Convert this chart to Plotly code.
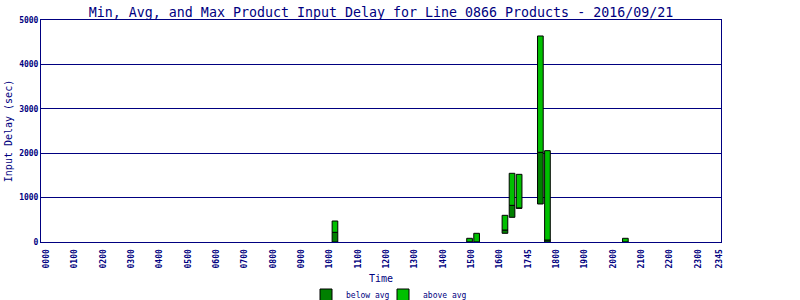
import plotly.graph_objects as go

# ---- data ----
bar_times = ["1015", "1500", "1515", "1615", "1630", "1645", "1730", "1745", "2030"]
min_delay = [0, 0, 0, 196, 556, 759, 856, 0, 0]
avg_delay = [218, 3, 3, 270, 826, 768, 2020, 45, 3]
max_delay = [473, 83, 196, 601, 1547, 1524, 4640, 2057, 83]

tick_labels = ["0000", "0100", "0200", "0300", "0400", "0500", "0600", "0700",
               "0800", "0900", "1000", "1100", "1200", "1300", "1400", "1500",
               "1600", "1745", "1800", "1900", "2000", "2100", "2200", "2300", "2345"]

# all quarter-hour slots of the day (axis categories)
slots = [f"{h:02d}{m:02d}" for h in range(24) for m in (0, 15, 30, 45)]
tick_vals = [slots[i] for i in range(0, 96, 4)] + [slots[95]]

NAVY = "#000080"
DARK = "#008000"
LIGHT = "#00C000"
MONO = "DejaVu Sans Mono"

fig = go.Figure()
fig.add_trace(go.Bar(
    x=bar_times,
    base=min_delay,
    y=[a - m for a, m in zip(avg_delay, min_delay)],
    name="below avg",
    legend="legend",
    marker=dict(color=DARK, line=dict(color="black", width=1)),
))
fig.add_trace(go.Bar(
    x=bar_times,
    base=avg_delay,
    y=[x - a for x, a in zip(max_delay, avg_delay)],
    name="above avg",
    legend="legend2",
    marker=dict(color=LIGHT, line=dict(color="black", width=1)),
))

L, R, T, B = 41, 79, 20, 58
PW, PH = 800 - L - R, 300 - T - B
leg_y = (300 - B - 295) / PH
leg_common = dict(orientation="h", xanchor="left", y=leg_y, yanchor="middle",
                  font=dict(family=MONO, size=8, color=NAVY), itemwidth=30,
                  bgcolor="rgba(0,0,0,0)")

fig.update_layout(
    width=800, height=300,
    margin=dict(l=L, r=R, t=T, b=B, autoexpand=False),
    paper_bgcolor="white", plot_bgcolor="white",
    barmode="overlay", bargap=0.2,
    title=dict(text="Min, Avg, and Max Product Input Delay for Line 0866 Products - 2016/09/21",
               x=381/800, xanchor="center", y=1 - 12/300, yanchor="middle",
               font=dict(family=MONO, size=13.3, color=NAVY)),
    showlegend=True,
    legend=dict(x=(306 - L) / PW, **leg_common),
    legend2=dict(x=(383 - L) / PW, **leg_common),
    xaxis=dict(
        type="category", categoryorder="array", categoryarray=slots,
        range=[-0.5, 95.5], automargin=False,
        tickmode="array", tickvals=tick_vals, ticktext=tick_labels,
        tickangle=-90, ticks="", ticklabelstandoff=3, ticklabelshift=2,
        tickfont=dict(family=MONO, size=8, color=NAVY, weight="bold"),
        showline=True, linecolor=NAVY, linewidth=1, mirror=True,
        showgrid=False,
        title=dict(text="Time", font=dict(family=MONO, size=10, color=NAVY), standoff=7),
    ),
    yaxis=dict(
        range=[0, 5000], dtick=1000, ticks="", automargin=False,
        tickfont=dict(family=MONO, size=8, color=NAVY, weight="bold"),
        showline=True, linecolor=NAVY, linewidth=1, mirror=True,
        showgrid=True, gridcolor=NAVY, gridwidth=1, zeroline=False,
        title=dict(text="Input Delay (sec)", font=dict(family=MONO, size=10, color=NAVY), standoff=4),
    ),
)

fig.write_html("out.html")
